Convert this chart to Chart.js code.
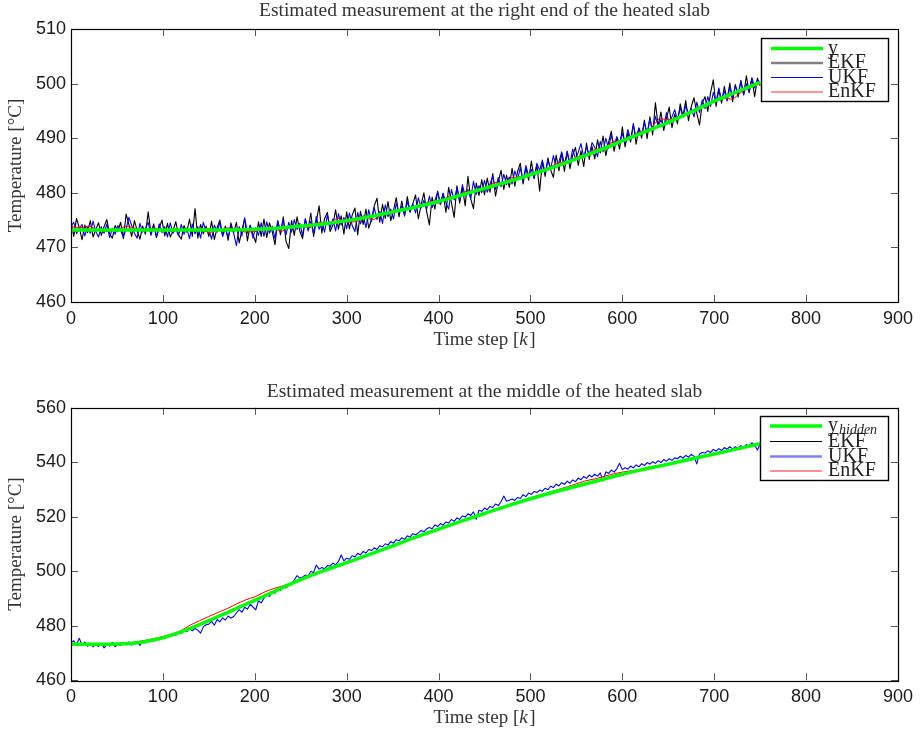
<!DOCTYPE html>
<html><head><meta charset="utf-8">
<script src="https://cdn.jsdelivr.net/npm/chart.js@4.4.0/dist/chart.umd.min.js"></script>
<style>
html,body{margin:0;padding:0;background:#fff;}
#wrap{position:relative;width:924px;height:735px;background:#fff;}
canvas{position:absolute;left:0;}
</style></head><body>
<div id="wrap">
<canvas id="c1" width="924" height="367" style="top:0"></canvas>
<canvas id="c2" width="924" height="368" style="top:367px"></canvas>
</div>
<script>
// ---------- data ----------
const stepSmooth = 25;   // time-step spacing of the smooth series
const stepEnKF = 10;     // time-step spacing of the EnKF series
const stepNoisy = 3;     // time-step spacing of the EKF/UKF series

const timeTicks = [0,100,200,300,400,500,600,700,800,900];
const topTempTicks = [460,470,480,490,500,510];
const midTempTicks = [460,480,500,520,540,560];

// Top panel: right end of the slab
const topY = [473.2,473.2,473.2,473.2,473.2,473.2,473.2,473.2,473.3,473.5,473.9,474.3,474.9,475.6,476.5,477.4,478.4,479.6,480.8,482.0,483.3,484.7,486.2,487.8,489.5,491.2,492.9,494.8,496.8,498.5,500.2];

const topEKF = [
474.8,472.0,475.3,473.6,471.4,474.1,472.7,474.9,471.9,473.3,
474.5,472.2,473.8,475.1,472.5,471.7,474.0,472.9,474.6,471.6,
476.1,474.2,472.0,474.9,473.1,471.5,473.9,472.4,476.5,472.6,
474.3,471.8,473.6,475.0,472.1,474.4,471.9,473.0,474.7,472.3,
471.5,474.0,472.8,475.2,472.0,477.1,471.7,474.2,472.5,473.9,
472.0,474.8,471.4,473.6,475.0,472.2,473.9,471.3,474.5,472.7,
474.6,470.8,473.1,475.3,471.2,474.1,472.4,470.9,474.7,472.0,
475.2,471.8,474.5,472.9,470.5,474.9,472.3,475.6,471.1,469.8,
474.9,472.2,475.6,473.0,471.6,475.1,473.4,476.3,472.0,474.8,
477.6,472.6,475.3,476.4,472.9,474.1,476.9,473.3,475.8,472.4,
476.5,473.4,475.9,477.2,472.3,476.6,474.2,477.0,473.5,475.1,
477.6,479.0,474.6,477.9,475.3,478.4,474.9,476.8,479.1,475.6,
478.5,475.7,479.3,476.4,478.0,479.6,475.2,477.8,480.0,476.6,
474.1,479.2,477.0,480.3,477.9,479.9,476.4,481.0,478.2,475.5,
481.3,478.1,480.9,477.6,483.0,478.9,477.1,481.8,479.5,482.4,
479.6,482.7,480.1,483.5,479.4,482.0,484.1,480.6,483.2,481.0,
484.5,481.2,483.9,485.4,481.6,484.6,482.3,485.8,482.6,485.1,
480.3,485.7,483.0,486.4,484.2,482.8,486.9,484.0,487.3,483.9,
487.6,484.4,486.9,488.3,485.0,487.7,484.8,489.1,486.1,488.5,
486.2,489.7,487.3,490.4,486.8,489.2,491.3,487.6,490.1,488.0,
492.1,488.4,491.0,489.3,492.7,488.9,491.8,490.0,493.3,489.9,
493.9,490.6,496.5,492.2,494.8,491.4,493.6,495.7,491.9,494.4,
492.6,496.3,494.0,496.9,493.2,495.8,497.4,494.6,492.4,496.5,
497.6,494.9,498.3,500.7,495.8,498.9,496.4,499.5,497.0,500.1,
496.7,499.8,497.5,500.6,498.0,501.4,498.3,500.9,497.6,501.0,
499.6];

const topUKF = [
473.9,474.6,472.5,473.4,474.2,472.1,473.7,472.6,474.8,472.9,
471.9,473.8,472.6,474.3,471.8,473.5,472.4,474.0,473.1,471.9,
473.4,475.5,474.0,472.6,471.7,474.4,472.8,473.5,474.6,472.2,
473.9,472.0,474.3,472.7,473.8,471.9,474.5,472.6,473.4,472.1,
474.2,472.4,473.5,471.6,474.3,472.5,473.8,471.7,474.6,472.9,
473.4,471.5,474.1,472.8,474.6,472.0,473.5,471.8,474.0,472.6,
470.3,473.8,472.1,475.4,472.6,474.0,471.7,473.6,472.2,474.5,
472.0,474.7,472.6,473.9,471.6,474.8,472.9,475.0,472.3,474.6,
472.8,475.1,473.3,474.4,472.2,475.3,473.0,474.8,472.5,475.7,
473.3,474.6,472.8,476.0,473.6,475.2,473.0,476.2,474.1,475.5,
473.4,476.3,474.0,472.9,476.4,474.3,475.8,473.6,476.9,474.7,
477.3,475.1,476.6,474.4,477.8,475.6,477.0,475.2,478.1,476.3,
477.6,475.9,478.4,476.6,478.0,476.3,479.1,477.2,478.6,477.0,
479.4,477.3,478.6,480.1,477.8,479.9,478.2,477.0,480.6,478.7,
480.9,478.6,481.5,479.4,480.6,478.9,482.1,479.7,481.3,480.0,
482.3,480.1,481.6,483.0,480.6,482.8,481.1,483.4,481.5,482.9,
481.6,484.0,482.4,484.6,482.1,485.0,483.1,484.3,482.7,485.4,
484.1,486.0,483.6,485.9,484.4,486.8,484.6,485.6,487.5,485.2,
487.6,485.4,488.0,486.2,487.4,489.0,486.5,488.4,486.9,489.2,
488.3,486.6,489.4,487.5,490.0,488.1,490.6,488.6,490.3,489.0,
490.9,489.0,491.6,489.6,492.4,490.1,491.9,490.6,492.8,491.0,
493.6,491.4,494.0,492.2,493.4,491.9,494.7,492.6,493.9,495.2,
493.4,495.6,493.8,496.0,494.3,495.5,493.9,496.6,494.7,497.0,
495.4,497.6,495.8,498.4,496.6,499.2,497.0,498.6,496.8,499.4,
497.4,499.6,498.1,500.4,497.9,500.0,498.6,501.1,499.2,500.6,
500.3];

const topEnKF = [473.8,473.6,473.9,473.1,472.9,473.3,473.9,473.5,473.1,473.6,473.2,472.9,473.4,473.0,473.5,472.7,473.1,473.6,473.2,472.8,
472.9,473.5,473.4,473.0,473.8,474.0,473.6,474.6,474.3,475.4,474.6,474.7,475.3,475.1,476.4,476.2,477.0,477.3,477.6,478.4,
478.1,479.3,479.2,480.3,480.3,480.6,481.9,481.7,482.8,482.9,483.5,484.0,484.5,485.6,485.5,486.6,486.8,487.9,488.2,489.4,
489.6,490.4,491.2,491.6,493.6,493.4,493.6,494.4,495.5,496.0,496.6,497.4,497.1,498.5,499.3,500.0];

// Bottom panel: middle of the slab
const midYHidden = [473.2,473.2,473.3,473.9,475.6,478.4,481.9,485.6,489.3,493.2,496.9,500.2,503.2,506.2,509.3,512.5,515.5,518.4,521.2,524.0,526.6,529.0,531.2,533.4,535.6,537.5,539.3,541.2,543.0,544.9,546.8];

const midEKF = [473.1,473.3,473.2,474.0,475.5,478.3,481.8,485.5,489.2,493.1,496.8,500.1,503.2,506.1,509.3,512.4,515.5,518.3,521.1,523.9,526.6,529.0,531.2,533.4,535.5,537.5,539.3,541.2,543.0,544.9,546.7];

const midUKF = [
473.8,474.5,473.1,475.4,472.9,474.0,472.5,473.7,472.3,473.4,
472.4,473.6,471.9,473.1,472.6,473.9,472.3,473.5,472.8,473.9,
473.0,474.1,472.9,473.8,474.3,472.8,474.6,473.7,474.2,475.1,
474.4,475.3,474.9,476.0,475.4,476.6,476.0,477.2,476.5,477.6,
477.2,478.3,477.8,478.9,478.2,479.0,478.4,477.3,479.6,480.4,
480.6,481.6,480.2,482.3,481.5,482.9,482.1,483.6,482.8,483.4,
484.7,485.9,485.0,486.8,486.1,487.9,486.9,485.8,489.2,488.4,
490.1,491.4,490.8,492.5,492.0,493.3,493.0,494.2,493.9,495.1,
495.6,496.8,498.4,497.5,497.9,498.6,498.3,500.0,499.5,502.3,
500.8,501.4,500.9,502.1,501.9,503.0,502.4,503.6,506.0,503.8,
504.8,504.4,505.7,505.3,506.6,506.0,507.3,506.7,508.0,507.6,
508.6,508.0,509.4,509.0,510.1,509.6,510.9,510.3,511.6,511.2,
512.3,511.7,513.0,512.5,513.8,513.4,514.1,515.0,514.5,515.6,
516.1,515.6,517.0,516.4,517.5,516.9,518.1,517.7,519.0,518.3,
519.6,519.0,520.3,519.9,521.1,520.5,521.8,519.1,522.4,522.0,
523.2,522.6,523.8,523.4,524.7,524.1,525.5,527.6,525.7,526.1,
526.5,526.0,527.1,526.7,528.1,527.4,528.7,528.2,529.3,528.9,
529.8,529.4,530.5,529.9,531.2,530.7,532.0,531.3,532.5,531.9,
533.1,532.3,533.5,532.9,534.2,533.6,534.8,534.1,535.3,534.6,
535.6,534.9,536.1,533.1,536.5,535.9,537.1,536.4,537.6,539.6,
537.3,538.0,537.5,538.6,537.9,539.0,538.3,539.5,538.8,539.9,
539.3,540.2,539.6,540.6,539.9,541.0,540.4,541.3,540.7,541.6,
541.3,542.2,541.5,542.5,541.9,542.9,542.2,539.4,543.0,543.6,
543.4,544.2,543.6,544.7,544.1,545.0,544.3,545.4,544.8,545.7,
544.8,545.7,545.1,546.1,545.4,546.5,545.9,547.1,546.3,544.5,
546.6];

const midEnKF = [473.3,473.4,473.3,473.2,473.4,473.5,473.7,474.0,474.6,475.3,476.0,477.0,478.3,480.3,481.9,483.4,484.9,486.3,488.0,489.5,
490.6,492.3,493.6,494.6,495.7,497.4,498.7,499.6,500.9,502.1,503.4,504.6,505.8,506.9,508.2,509.4,510.7,512.0,513.3,514.5,
515.7,516.9,518.0,519.2,520.3,521.4,522.6,523.6,524.8,525.8,526.9,527.9,528.9,530.0,531.0,532.1,533.2,533.9,534.8,535.7,
536.4,536.9,537.4,538.3,538.9,539.5,540.2,540.9,541.7,542.5,543.1,543.9,544.6,545.4,546.0,546.7];

// ---------- helpers ----------
function series(values, step) { return values.map((v, i) => ({ x: i * step, y: v })); }

const SERIF = '"Liberation Serif", "Times New Roman", serif';
const SANS = '"Liberation Sans", Arial, sans-serif';

function framePlugin(cfg) {
  return {
    id: 'frameAndLegend',
    afterDraw(chart) {
      const ctx = chart.ctx;
      const a = chart.chartArea;
      const xs = chart.scales.x, ys = chart.scales.y;
      ctx.save();
      // inward tick marks
      ctx.strokeStyle = '#555';
      ctx.lineWidth = 1;
      ctx.beginPath();
      timeTicks.forEach(v => {
        const px = Math.round(xs.getPixelForValue(v)) + 0.5;
        ctx.moveTo(px, a.top); ctx.lineTo(px, a.top + 7);
        ctx.moveTo(px, a.bottom); ctx.lineTo(px, a.bottom - 7);
      });
      cfg.yTicks.forEach(v => {
        const py = Math.round(ys.getPixelForValue(v)) + 0.5;
        ctx.moveTo(a.left, py); ctx.lineTo(a.left + 7, py);
        ctx.moveTo(a.right, py); ctx.lineTo(a.right - 7, py);
      });
      ctx.stroke();
      // box
      ctx.strokeStyle = '#000';
      ctx.lineWidth = 1.2;
      ctx.strokeRect(Math.round(a.left) + 0.5, Math.round(a.top) + 0.5,
                     Math.round(a.right - a.left), Math.round(a.bottom - a.top));
      // x axis title with italic k
      ctx.fillStyle = '#333';
      ctx.textBaseline = 'middle';
      const f1 = '19px ' + SERIF, f2 = 'italic 19px ' + SERIF;
      const p1 = 'Time step [', p2 = 'k', p3 = ']';
      ctx.font = f1; const w1 = ctx.measureText(p1).width, w3 = ctx.measureText(p3).width;
      ctx.font = f2; const w2 = ctx.measureText(p2).width + 1.5;
      let tx = (a.left + a.right) / 2 - (w1 + w2 + w3) / 2;
      ctx.textAlign = 'left';
      ctx.font = f1; ctx.fillText(p1, tx, cfg.xTitleY); tx += w1;
      ctx.font = f2; ctx.fillText(p2, tx, cfg.xTitleY); tx += w2;
      ctx.font = f1; ctx.fillText(p3, tx, cfg.xTitleY);
      // legend
      const L = cfg.legend;
      ctx.fillStyle = '#fff';
      ctx.fillRect(L.box[0], L.box[1], L.box[2] - L.box[0], L.box[3] - L.box[1]);
      ctx.strokeStyle = '#000';
      ctx.lineWidth = 1.4;
      ctx.strokeRect(L.box[0], L.box[1], L.box[2] - L.box[0], L.box[3] - L.box[1]);
      L.rows.forEach(r => {
        ctx.strokeStyle = r.color;
        ctx.lineWidth = r.width;
        ctx.beginPath();
        ctx.moveTo(L.lineX[0], r.y); ctx.lineTo(L.lineX[1], r.y);
        ctx.stroke();
        ctx.fillStyle = '#222';
        ctx.font = '20px ' + SERIF;
        ctx.textAlign = 'left';
        ctx.textBaseline = 'middle';
        ctx.fillText(r.label, L.textX, r.y);
        if (r.sub) {
          const lw = ctx.measureText(r.label).width;
          ctx.font = 'italic 14px ' + SERIF;
          ctx.fillText(r.sub, L.textX + lw + 1, r.y + 4);
        }
      });
      ctx.restore();
    }
  };
}

function makeChart(id, cfg) {
  return new Chart(document.getElementById(id), {
    type: 'line',
    data: { datasets: cfg.datasets },
    options: {
      responsive: false,
      animation: false,
      devicePixelRatio: 1,
      layout: { padding: { left: 0, right: 26, top: 0, bottom: 0 } },
      elements: { point: { radius: 0 }, line: { borderJoinStyle: 'round', tension: 0 } },
      plugins: {
        legend: { display: false },
        tooltip: { enabled: false },
        title: {
          display: true,
          text: cfg.title,
          fullSize: false,
          color: '#333',
          font: { family: SERIF, size: 19.5, weight: 'normal', lineHeight: 1.1 },
          padding: cfg.titlePad
        }
      },
      scales: {
        x: {
          type: 'linear',
          min: 0, max: 900,
          afterBuildTicks: s => { s.ticks = timeTicks.map(v => ({ value: v })); },
          afterFit: s => { s.height = cfg.xAxisHeight; },
          grid: { display: false, drawTicks: false },
          border: { display: false },
          ticks: { font: { family: SANS, size: 18 }, color: '#1a1a1a', padding: 6, maxRotation: 0, autoSkip: false }
        },
        y: {
          type: 'linear',
          min: cfg.yTicks[0], max: cfg.yTicks[cfg.yTicks.length - 1],
          afterBuildTicks: s => { s.ticks = cfg.yTicks.map(v => ({ value: v })); },
          afterFit: s => { s.width = 71; },
          grid: { display: false, drawTicks: false },
          border: { display: false },
          ticks: { font: { family: SANS, size: 18 }, color: '#1a1a1a', padding: 5, autoSkip: false },
          title: {
            display: true,
            text: 'Temperature [°C]',
            color: '#333',
            font: { family: SERIF, size: 19 },
            padding: { top: 5, bottom: 0 }
          }
        }
      }
    },
    plugins: [framePlugin(cfg)]
  });
}

const green = '#00ff00';

makeChart('c1', {
  title: 'Estimated measurement at the right end of the heated slab',
  titlePad: { top: 0, bottom: 7.5 },
  xAxisHeight: 65,
  xTitleY: 340,
  yTicks: topTempTicks,
  datasets: [
    { label: 'y', data: series(topY, stepSmooth), borderColor: green, borderWidth: 3.5, cubicInterpolationMode: 'monotone', order: 0 },
    { label: 'EKF', data: series(topEKF, stepNoisy), borderColor: '#000000', borderWidth: 1.1, order: 3 },
    { label: 'UKF', data: series(topUKF, stepNoisy), borderColor: '#0000ff', borderWidth: 1.1, order: 2 },
    { label: 'EnKF', data: series(topEnKF, stepEnKF), borderColor: '#ff0000', borderWidth: 1, order: 1 }
  ],
  legend: {
    box: [761.5, 38.5, 888.5, 101.5],
    lineX: [771, 823], textX: 828,
    rows: [
      { y: 48.5, color: green, width: 3.5, label: 'y' },
      { y: 63, color: '#808080', width: 2.5, label: 'EKF' },
      { y: 77.5, color: '#0000ff', width: 1, label: 'UKF' },
      { y: 92, color: '#ff3030', width: 1, label: 'EnKF' }
    ]
  }
});

makeChart('c2', {
  title: 'Estimated measurement at the middle of the heated slab',
  titlePad: { top: 14, bottom: 5.3 },
  xAxisHeight: 54.7,
  xTitleY: 351,
  yTicks: midTempTicks,
  datasets: [
    { label: 'y_hidden', data: series(midYHidden, stepSmooth), borderColor: green, borderWidth: 3.5, cubicInterpolationMode: 'monotone', order: 0 },
    { label: 'EKF', data: series(midEKF, stepSmooth), borderColor: '#000000', borderWidth: 1, cubicInterpolationMode: 'monotone', order: 3 },
    { label: 'UKF', data: series(midUKF, stepNoisy), borderColor: '#0000ff', borderWidth: 1.1, order: 2 },
    { label: 'EnKF', data: series(midEnKF, stepEnKF), borderColor: '#ff0000', borderWidth: 1, order: 1 }
  ],
  legend: {
    box: [760.5, 49.5, 888.5, 113.5],
    lineX: [770, 822], textX: 828,
    rows: [
      { y: 59, color: green, width: 3.5, label: 'y', sub: 'hidden' },
      { y: 74.5, color: '#000000', width: 1, label: 'EKF' },
      { y: 89.5, color: '#7f7fff', width: 2.5, label: 'UKF' },
      { y: 104, color: '#ff2020', width: 1, label: 'EnKF' }
    ]
  }
});
</script>
</body></html>
